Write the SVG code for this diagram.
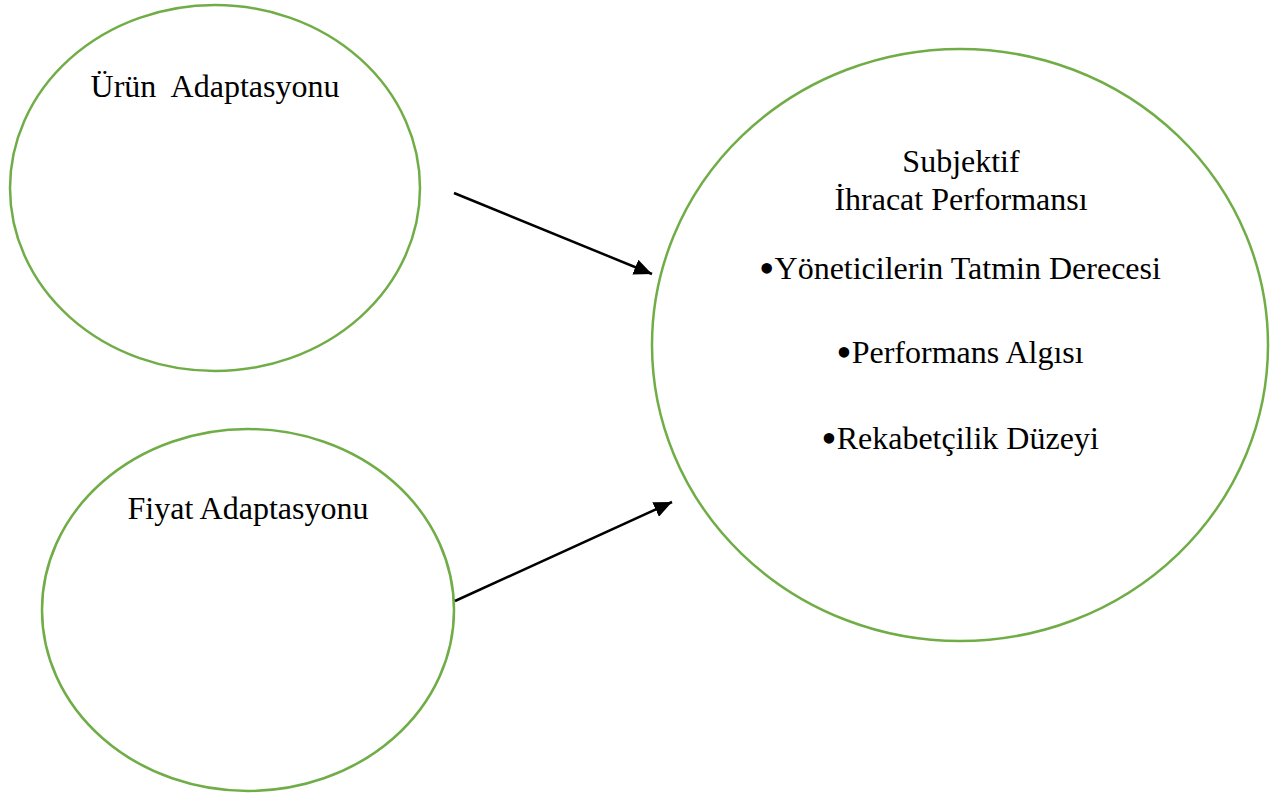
<svg xmlns="http://www.w3.org/2000/svg" width="1280" height="798" viewBox="0 0 1280 798">
<style>
.node{fill:#fff;stroke:#70AD47;stroke-width:2.5}
.lbl{font-family:"Liberation Serif","Times New Roman",serif;font-size:32px;fill:#000;text-anchor:middle}
.b{font-size:44px}
.conn{stroke:#000;stroke-width:2.5;fill:none;marker-end:url(#ah)}
</style>
<defs>
<marker id="ah" markerUnits="userSpaceOnUse" markerWidth="20" markerHeight="16" refX="18" refY="8" orient="auto">
<path d="M0,0 L18,8 L0,16 Z" fill="#000"/>
</marker>
</defs>
<rect width="1280" height="798" fill="#fff"/>
<g id="urun">
<ellipse class="node" cx="215" cy="188" rx="205" ry="183"/>
<text class="lbl" x="215" y="97" xml:space="preserve">Ürün  Adaptasyonu</text>
</g>
<g id="fiyat">
<ellipse class="node" cx="248" cy="610" rx="206" ry="181"/>
<text class="lbl" x="248" y="519">Fiyat Adaptasyonu</text>
</g>
<g id="performans">
<ellipse class="node" cx="960" cy="345" rx="308" ry="296"/>
<text class="lbl" x="961" y="172">Subjektif</text>
<text class="lbl" x="961" y="210">İhracat Performansı</text>
<text class="lbl" x="960" y="279"><tspan class="b" dy="4">•</tspan><tspan dy="-4">Yöneticilerin Tatmin Derecesi</tspan></text>
<text class="lbl" x="960" y="363"><tspan class="b" dy="4">•</tspan><tspan dy="-4">Performans Algısı</tspan></text>
<text class="lbl" x="960" y="449"><tspan class="b" dy="4">•</tspan><tspan dy="-4">Rekabetçilik Düzeyi</tspan></text>
</g>
<g id="connectors">
<line class="conn" x1="454" y1="193" x2="652" y2="274"/>
<line class="conn" x1="455" y1="601" x2="672" y2="502"/>
</g>
</svg>
